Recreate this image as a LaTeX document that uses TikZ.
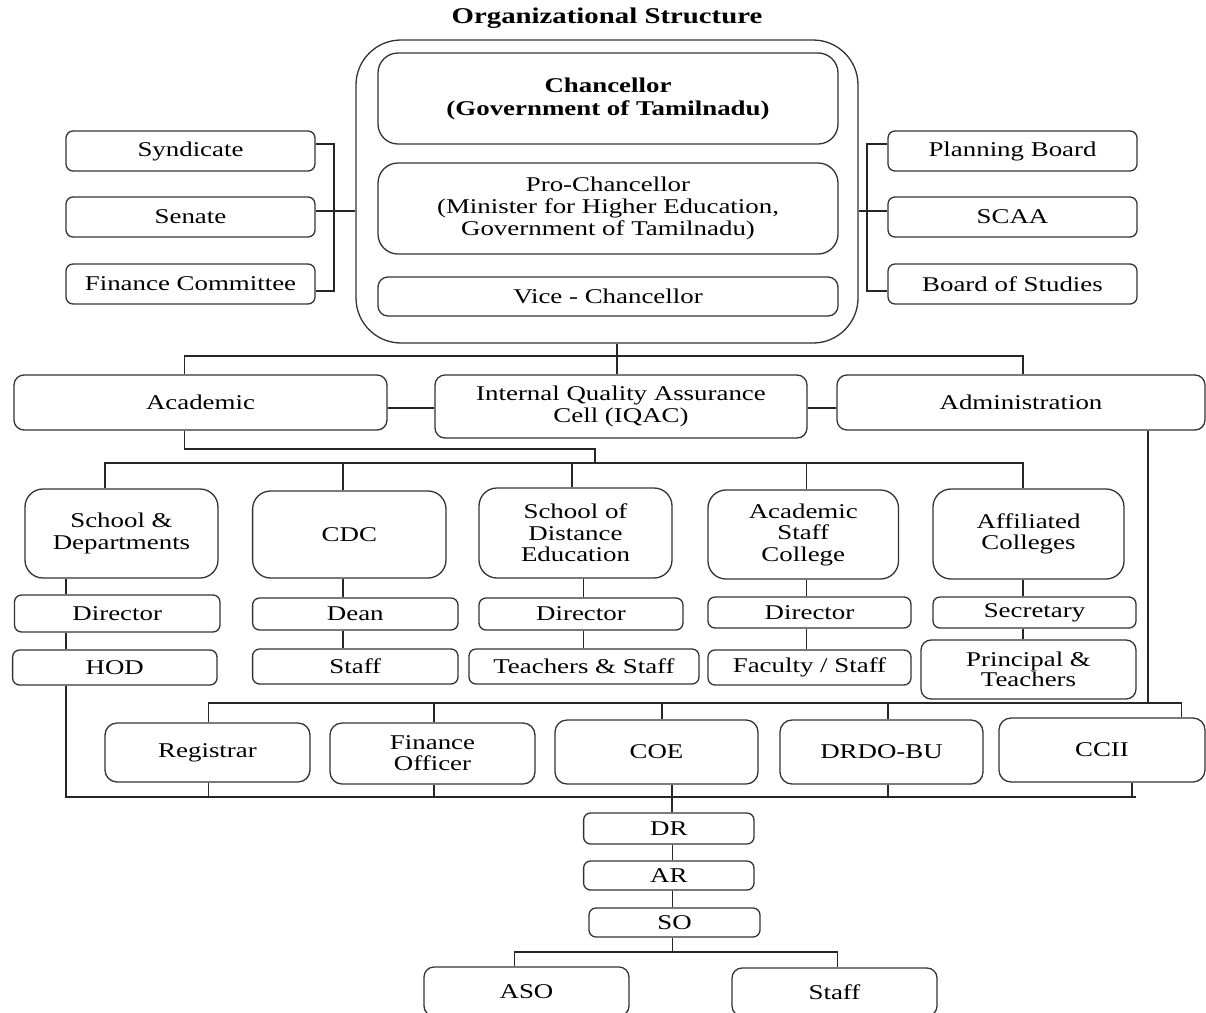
\documentclass[tikz,border=0pt]{standalone}
\usepackage{fontspec}
\setmainfont{Liberation Serif}[FakeStretch=1.28]
\begin{document}
\begin{tikzpicture}[x=1pt,y=-1pt,
  ln/.style={line width=1.3pt, draw=black!85},
  bx/.style={draw=black!80, line width=1.3pt, align=center, inner sep=0pt,
    font=\fontsize{21}{21.5}\selectfont, text=black},
  r7/.style={bx, rounded corners=7pt},
  r10/.style={bx, rounded corners=10pt},
  r12/.style={bx, rounded corners=12pt},
  r18/.style={bx, rounded corners=18pt},
  r20/.style={bx, rounded corners=20pt}]
\fill[white] (0,0) rectangle (1206,1012);
\clip (0,0) rectangle (1206,1012);

% title
\node[font=\fontsize{22.5}{24}\selectfont\bfseries] (title) at (607,18) {Organizational Structure};

% top block
\node[bx, rounded corners=45pt, minimum width=502pt, minimum height=303pt] (outer) at (607,191.5) {};
\node[r20, font=\fontsize{21}{23}\selectfont\bfseries, minimum width=460pt, minimum height=91pt] (chan) at (608,98.5) {Chancellor\\(Government of Tamilnadu)};
\node[r20, font=\fontsize{21}{22}\selectfont, minimum width=460pt, minimum height=91pt] (pro) at (608,208.5) {Pro-Chancellor\\(Minister for Higher Education,\\Government of Tamilnadu)};
\node[r10, minimum width=460pt, minimum height=39pt] (vice) at (608,296.5) {Vice - Chancellor};

% left and right committees
\node[r7, minimum width=249pt, minimum height=40pt] (syn) at (190.5,151) {Syndicate};
\node[r7, minimum width=249pt, minimum height=40pt] (sen) at (190.5,217) {Senate};
\node[r7, minimum width=249pt, minimum height=40pt] (fin) at (190.5,284) {Finance Committee};
\node[r7, minimum width=249pt, minimum height=40pt] (plan) at (1012.5,151) {Planning Board};
\node[r7, minimum width=249pt, minimum height=40pt] (scaa) at (1012.5,217) {SCAA};
\node[r7, minimum width=249pt, minimum height=40pt] (bos) at (1012.5,284) {Board of Studies};

% second level
\node[r10, minimum width=373pt, minimum height=55pt] (acad) at (200.5,402.5) {Academic};
\node[r10, minimum width=372pt, minimum height=63pt] (iqac) at (621,406.5) {Internal Quality Assurance\\Cell (IQAC)};
\node[r10, minimum width=368pt, minimum height=55pt] (admin) at (1021,402.5) {Administration};

% academic units
\node[r18, minimum width=193pt, minimum height=89pt] (sd) at (121.5,533.5) {School \&\\Departments};
\node[r18, minimum width=193.4pt, minimum height=87pt] (cdc) at (349.3,534.5) {CDC};
\node[r18, minimum width=193pt, minimum height=90pt] (sde) at (575.5,533) {School of\\Distance\\Education};
\node[r18, minimum width=190.5pt, minimum height=89pt] (asc) at (803.25,534.5) {Academic\\Staff\\College};
\node[r18, minimum width=191pt, minimum height=90pt] (aff) at (1028.5,534) {Affiliated\\Colleges};

\node[r7, minimum width=205.5pt, minimum height=37pt] (sdd) at (117.25,613.5) {Director};
\node[r7, minimum width=204.4pt, minimum height=35pt] (hod) at (114.8,667.5) {HOD};
\node[r7, minimum width=205.4pt, minimum height=32pt] (cdcd) at (355.3,614) {Dean};
\node[r7, minimum width=205.4pt, minimum height=35pt] (cdcs) at (355.3,666.5) {Staff};
\node[r7, minimum width=204pt, minimum height=32pt] (sded) at (581,614) {Director};
\node[r7, minimum width=230pt, minimum height=35pt] (sdes) at (584,666.5) {Teachers \& Staff};
\node[r7, minimum width=203pt, minimum height=31pt] (ascd) at (809.5,612.5) {Director};
\node[r7, minimum width=203pt, minimum height=35pt] (ascs) at (809.5,667.5) {Faculty / Staff};
\node[r7, minimum width=203pt, minimum height=31pt] (sec) at (1034.5,612.5) {Secretary};
\node[r10, font=\fontsize{21}{20.5}\selectfont, minimum width=215pt, minimum height=59pt] (prin) at (1028.5,669.5) {Principal \&\\Teachers};

% administrative officers
\node[r12, minimum width=205pt, minimum height=59pt] (reg) at (207.5,752.5) {Registrar};
\node[r12, font=\fontsize{21}{21}\selectfont, minimum width=205pt, minimum height=61pt] (fo) at (432.5,753.5) {Finance\\Officer};
\node[r12, minimum width=203pt, minimum height=64pt] (coe) at (656.5,752) {COE};
\node[r12, minimum width=203pt, minimum height=64pt] (drdo) at (881.5,752) {DRDO-BU};
\node[r12, minimum width=206pt, minimum height=64pt] (ccii) at (1102,750) {CCII};

\node[r7, minimum width=170.4pt, minimum height=31pt] (dr) at (668.8,828.5) {DR};
\node[r7, minimum width=170.4pt, minimum height=29pt] (ar) at (668.8,875.5) {AR};
\node[r7, minimum width=171pt, minimum height=29pt] (so) at (674.5,922.5) {SO};
\node[r10, minimum width=205pt, minimum height=49pt] (aso) at (526.5,991.5) {ASO};
\node[r10, minimum width=205pt, minimum height=48pt] (stf) at (834.5,992) {Staff};

% ---- connectors ----
\coordinate (lb) at (334,211);
\draw[ln] ([yshift=7pt]syn.east) -| (lb) |- ([yshift=-7pt]fin.east);
\draw[ln] ([yshift=6pt]sen.east) -- (lb) -- (lb -| outer.west);
\coordinate (rb) at (867,211);
\draw[ln] ([yshift=7pt]plan.west) -| (rb) |- ([yshift=-7pt]bos.west);
\draw[ln] ([yshift=6pt]scaa.west) -- (rb) -- (rb -| outer.east);

\coordinate (tj) at (617,356);
\coordinate (ta) at (184.5,356);
\coordinate (td) at (1023,356);
\draw[ln] (tj |- outer.south) -- (tj |- iqac.north);
\draw[ln] (ta |- acad.north) -- (ta) -- (td) -- (td |- admin.north);
\coordinate (hq) at (0,408);
\draw[ln] (acad.east |- hq) -- (iqac.west |- hq);
\draw[ln] (iqac.east |- hq) -- (admin.west |- hq);

\coordinate (k1) at (184.5,449);
\coordinate (k2) at (595,463);
\draw[ln] (k1 |- acad.south) -- (k1) -| (k2);
\coordinate (b1) at (105,463);
\coordinate (b2) at (343,463);
\coordinate (b3) at (572,463);
\coordinate (b4) at (806.7,463);
\coordinate (b5) at (1023,463);
\draw[ln] (b1 |- sd.north) -- (b1) -- (b5) -- (b5 |- aff.north);
\draw[ln] (b2) -- (b2 |- cdc.north);
\draw[ln] (b3) -- (b3 |- sde.north);
\draw[ln] (b4) -- (b4 |- asc.north);

\coordinate (c1) at (66,0);
\coordinate (c2) at (343,0);
\coordinate (c3) at (583.6,0);
\coordinate (c4) at (806.7,0);
\coordinate (c5) at (1023,0);
\draw[ln] (c1 |- sd.south) -- (c1 |- sdd.north);
\draw[ln] (c1 |- sdd.south) -- (c1 |- hod.north);
\draw[ln] (c2 |- cdc.south) -- (c2 |- cdcd.north);
\draw[ln] (c2 |- cdcd.south) -- (c2 |- cdcs.north);
\draw[ln] (c3 |- sde.south) -- (c3 |- sded.north);
\draw[ln] (c3 |- sded.south) -- (c3 |- sdes.north);
\draw[ln] (c4 |- asc.south) -- (c4 |- ascd.north);
\draw[ln] (c4 |- ascd.south) -- (c4 |- ascs.north);
\draw[ln] (c5 |- aff.south) -- (c5 |- sec.north);
\draw[ln] (c5 |- sec.south) -- (c5 |- prin.north);

\coordinate (e1) at (208.6,703);
\coordinate (e2) at (434,703);
\coordinate (e3) at (662,703);
\coordinate (e4) at (888,703);
\coordinate (e5) at (1181.7,703);
\coordinate (ea) at (1148,703);
\draw[ln] (e1 |- reg.north) -- (e1) -- (e5) -- (e5 |- ccii.north);
\draw[ln] (e2) -- (e2 |- fo.north);
\draw[ln] (e3) -- (e3 |- coe.north);
\draw[ln] (e4) -- (e4 |- drdo.north);
\draw[ln] (ea |- admin.south) -- (ea);

\coordinate (f0) at (66,797);
\coordinate (f1) at (208.6,797);
\coordinate (f2) at (434,797);
\coordinate (f3) at (672,797);
\coordinate (f4) at (888,797);
\coordinate (f5) at (1132,797);
\coordinate (fe) at (1136,797);
\draw[ln] (f0 |- hod.south) -- (f0) -- (fe);
\draw[ln] (f1 |- reg.south) -- (f1);
\draw[ln] (f2 |- fo.south) -- (f2);
\draw[ln] (f4 |- drdo.south) -- (f4);
\draw[ln] (f5 |- ccii.south) -- (f5);
\draw[ln] (f3 |- coe.south) -- (f3 |- dr.north);

\coordinate (g) at (672.8,0);
\draw[ln] (g |- dr.south) -- (g |- ar.north);
\draw[ln] (g |- ar.south) -- (g |- so.north);
\coordinate (h0) at (672.8,952);
\coordinate (h1) at (514.7,952);
\coordinate (h2) at (837.3,952);
\draw[ln] (h0 |- so.south) -- (h0);
\draw[ln] (h1 |- aso.north) -- (h1) -- (h2) -- (h2 |- stf.north);
\end{tikzpicture}
\end{document}
